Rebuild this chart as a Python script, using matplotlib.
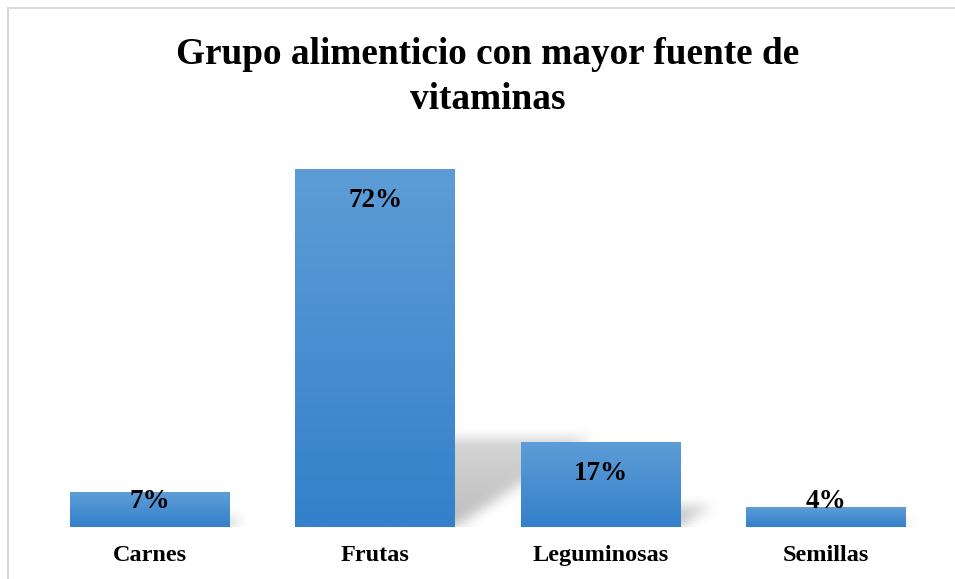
import numpy as np
import matplotlib.pyplot as plt
from matplotlib.patches import Rectangle

# data
categorias = ['Carnes', 'Frutas', 'Leguminosas', 'Semillas']
porcentajes = [7, 72, 17, 4]
etiquetas = ['7%', '72%', '17%', '4%']
titulo = 'Grupo alimenticio con mayor fuente de\nvitaminas'

plt.rcParams['font.family'] = ['Liberation Serif', 'DejaVu Serif']

fig = plt.figure(figsize=(9.55, 5.79), dpi=100)
ax = fig.add_axes([37.5 / 955, 52 / 579, 901 / 955, 377 / 579])
ymax = 76.0
ax.set_xlim(-0.5, 3.5)
ax.set_ylim(0, ymax)

x = np.arange(len(categorias))
ancho = 0.71
bars = ax.bar(x, porcentajes, width=ancho, color='none', zorder=3)

# gradient fill inside each bar (light top, darker bottom)
top_c = np.array([0x5D, 0x9D, 0xD7]) / 255
bot_c = np.array([0x34, 0x80, 0xCA]) / 255
t = np.linspace(0, 1, 100)[:, None]
grad = (top_c * (1 - t) + bot_c * t)[:, None, :].repeat(2, axis=1)
for b in bars:
    x0, w, h = b.get_x(), b.get_width(), b.get_height()
    ax.imshow(grad, extent=(x0, x0 + w, 0, h), aspect='auto', zorder=3,
              interpolation='bilinear')

# soft perspective shadow behind each bar
nx, ny = 900, 380
gx = np.linspace(-0.5, 3.5, nx)
gy = np.linspace(0, ymax, ny)
X, Y = np.meshgrid(gx, gy)
mask = np.zeros_like(X)
for b in bars:
    x0, w, h = b.get_x(), b.get_width(), b.get_height()
    sh = 0.25 * h
    shift = 0.0084 * h
    inside = (Y >= 0) & (Y <= sh)
    off = shift * Y / sh
    inside &= (X >= x0 + off) & (X <= x0 + w + off)
    # fade towards the far end of the shadow
    mask[inside] = 1.0 - 0.35 * (Y[inside] / sh)
k = np.exp(-0.5 * (np.arange(-18, 19) / 6.0) ** 2)
k /= k.sum()
mask = np.apply_along_axis(lambda r: np.convolve(r, k, mode='same'), 1, mask)
mask = np.apply_along_axis(lambda c: np.convolve(c, k, mode='same'), 0, mask)
rgba = np.zeros((ny, nx, 4))
rgba[..., 3] = np.clip(mask * 0.26, 0, 1)
ax.imshow(rgba, extent=(-0.5, 3.5, 0, ymax), origin='lower', aspect='auto',
          zorder=2, interpolation='bilinear')
ax.set_xlim(-0.5, 3.5)
ax.set_ylim(0, ymax)

# value labels
for xi, v, lab in zip(x, porcentajes, etiquetas):
    ax.text(xi, max(v - 6.2, 5.2), lab, ha='center', va='center',
            fontsize=19.5, fontweight='bold', color='black', zorder=5)

ax.set_xticks(x)
ax.set_xticklabels(categorias, fontsize=17.5, fontweight='bold')
ax.tick_params(axis='x', length=0, pad=13)
ax.set_yticks([])
for s in ax.spines.values():
    s.set_visible(False)

fig.text(488 / 955, 1 - 77 / 579, titulo, ha='center', va='center',
         fontsize=26.8, fontweight='bold', linespacing=1.38)

# light chart border (only top/left visible in the crop)
fig.patches.append(Rectangle((7.5 / 955, -0.1), 1.2, 1 - 7.5 / 579 + 0.1,
                             transform=fig.transFigure, fill=False,
                             edgecolor='#D9D9D9', linewidth=1.5))

fig.savefig('out.png', dpi=100)
